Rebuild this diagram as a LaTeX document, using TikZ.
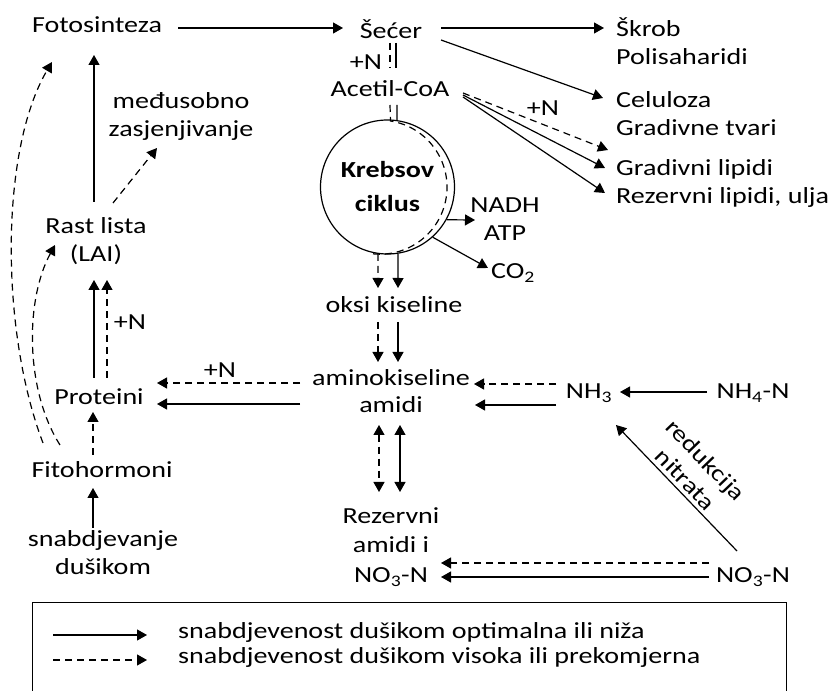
\documentclass[tikz,border=0pt]{standalone}
\usepackage{fontspec}
\setmainfont{Carlito}[FakeStretch=1.22]
\usepackage{tikz}
\usetikzlibrary{arrows.meta, calc}
\newcommand{\txtsize}{\fontsize{23}{28}\selectfont}
\tikzset{
  lbl/.style={inner sep=0pt, align=center, font=\txtsize},
  lbll/.style={inner sep=0pt, align=left, anchor=west, font=\txtsize},
  arrow/.style={-{Triangle[length=10pt,width=11pt]}, line width=1.2pt},
  dasharrow/.style={arrow, dash pattern=on 7pt off 5pt},
  twoway/.style={{Triangle[length=10pt,width=11pt]}-{Triangle[length=10pt,width=11pt]}, line width=1.2pt},
  dashtwoway/.style={twoway, dash pattern=on 7pt off 5pt},
  link/.style={line width=1.2pt},
  dashlink/.style={link, dash pattern=on 7pt off 5pt}
}

\begin{document}
\begin{tikzpicture}[x=1pt, y=1pt]
  \useasboundingbox (0,0) rectangle (839,691);

  %% ── Top row ─────────────────────────────────────────────────────────────
  \node[lbl] (foto) at (97,666) {Fotosinteza};
  \node[lbl] (secer) at (391,662) {Šećer};
  \node[lbl] (acetil) at (390,602) {Acetil-CoA};
  \node[lbll] (skrob) at (616,649.5) {Škrob\\Polisaharidi};
  \node[lbll] (celul) at (616,577.5) {Celuloza\\Gradivne tvari};
  \node[lbll] (lipidi) at (616,507.5) {Gradivni lipidi\\Rezervni lipidi, ulja};

  %% ── Krebs cycle ─────────────────────────────────────────────────────────
  \node[circle, draw, line width=1.2pt, minimum size=134pt, inner sep=0pt,
        align=center, font=\fontsize{23}{34}\selectfont\bfseries] (krebs)
        at (387.5,504) {Krebsov\\ciklus};
  \node[lbl] (nadh) at (505,472) {NADH\\ATP};
  \node[lbl] (co2) at (513,418) {CO\textsubscript{2}};
  \node[lbl] (oksi) at (394,386) {oksi kiseline};

  %% ── Nitrogen ────────────────────────────────────────────────────────────
  \node[lbl, font=\fontsize{23}{27}\selectfont] (amino) at (391,300) {aminokiseline\\amidi};
  \node[lbl] (nh3) at (589,298) {NH\textsubscript{3}};
  \node[lbl] (nh4) at (753,298) {NH\textsubscript{4}-N};
  \node[lbl, font=\fontsize{23}{29.5}\selectfont] (rez) at (391,144) {Rezervni\\amidi i\\NO\textsubscript{3}-N};
  \node[lbl] (no3) at (753,114) {NO\textsubscript{3}-N};

  %% ── Left column ─────────────────────────────────────────────────────────
  \node[lbl] (rast) at (96,450) {Rast lista\\(LAI)};
  \node[lbl] (medu) at (181,575) {međusobno\\zasjenjivanje};
  \node[lbl] (prot) at (99,294) {Proteini};
  \node[lbl] (fito) at (102,221) {Fitohormoni};
  \node[lbl] (snab) at (103,138) {snabdjevanje\\dušikom};

  %% ── +N labels ───────────────────────────────────────────────────────────
  \node[lbl] (nacetil) at (366,629) {+N};
  \node[lbl] (nlipid) at (543,583) {+N};
  \node[lbl] (nrast) at (130,369) {+N};
  \node[lbl] (nprot) at (220,321) {+N};

  %% ── Arrows ──────────────────────────────────────────────────────────────
  \draw[arrow] ($(foto.center)+(81,-3)$) -- ($(secer.center)+(-48,1)$);
  \draw[arrow] ($(secer.center)+(50,1)$) -- ($(skrob.west)+(-12,13.5)$);
  \draw[arrow] ($(secer.center)+(50,-11)$) -- ($(celul.west)+(-13,15.5)$);

  \draw[dashlink] ($(secer.center)+(-1,-14)$) -- ($(acetil.center)+(0,21)$);
  \draw[link] ($(secer.center)+(5,-14)$) -- ($(acetil.center)+(6,21)$);
  \draw[dashlink] ($(acetil.center)+(0,-16)$) -- ($(krebs.center)+(3,66)$)
    arc[start angle=81, end angle=-98, radius=67];
  \draw[link] ($(acetil.center)+(7,-16)$) -- (krebs.82);

  \draw[dasharrow] ($(acetil.center)+(73,-4)$) -- ($(lipidi.west)+(-8,33.5)$);
  \draw[arrow] ($(acetil.center)+(73,-6)$) -- ($(lipidi.west)+(-11,15.5)$);
  \draw[arrow] ($(acetil.center)+(73,-8)$) -- ($(lipidi.west)+(-11,-9.5)$);

  \draw[arrow] (krebs.-29) -- ($(nadh.center)+(-30,-1)$);
  \draw[arrow] (krebs.-48) -- ($(co2.center)+(-25,5)$);
  \draw[dasharrow] (krebs.-98) -- ($(oksi.center)+(-16,17)$);
  \draw[arrow] (krebs.-81) -- ($(oksi.center)+(4,17)$);

  \draw[dasharrow] ($(oksi.center)+(-16,-17)$) -- ($(amino.center)+(-13,29)$);
  \draw[arrow] ($(oksi.center)+(4,-17)$) -- ($(amino.center)+(7,29)$);

  \draw[dasharrow] ($(nh3.center)+(-33,9)$) -- ($(amino.center)+(83,7)$);
  \draw[arrow] ($(nh3.center)+(-33,-12)$) -- ($(amino.center)+(84,-14)$);
  \draw[arrow] ($(nh4.center)+(-46,1)$) -- ($(nh3.center)+(31,1)$);
  \draw[arrow] ($(no3.center)+(-16,26)$) -- ($(nh3.center)+(27,-32)$)
    node[midway, sloped, above=4pt, lbl] (redu) {redukcija\\nitrata};

  \draw[dashtwoway] ($(amino.center)+(-12,-34)$) -- ($(rez.center)+(-12,55)$);
  \draw[twoway] ($(amino.center)+(9,-34)$) -- ($(rez.center)+(9,55)$);
  \draw[dasharrow] ($(no3.center)+(-44,14)$) -- ($(rez.center)+(50,-16)$);
  \draw[arrow] ($(no3.center)+(-44,0)$) -- ($(rez.center)+(50,-30)$);

  \draw[dasharrow] ($(amino.center)+(-91,8)$) -- ($(prot.center)+(58,14)$);
  \draw[arrow] ($(amino.center)+(-91,-13)$) -- ($(prot.center)+(58,-7)$);

  \draw[arrow] ($(prot.center)+(-5,19)$) -- ($(rast.center)+(-2,-39)$);
  \draw[dasharrow] ($(prot.center)+(8,19)$) -- ($(rast.center)+(11,-39)$);
  \draw[arrow] ($(rast.center)+(-2,39)$) -- ($(foto.center)+(-3,-30)$);
  \draw[dasharrow] ($(rast.center)+(17,38)$) -- ($(medu.center)+(-24,-32)$);
  \draw[dasharrow] ($(fito.center)+(-9,15)$) -- ($(prot.center)+(-6,-15)$);
  \draw[arrow] ($(snab.center)+(-10,25)$) -- ($(fito.center)+(-9,-18)$);

  %% Feedback curves
  \draw[dasharrow] ($(fito.center)+(-59,27)$) .. controls +(-43,113) and +(-52,-88) .. ($(foto.center)+(-45,-37)$);
  \draw[dasharrow] ($(fito.center)+(-42,25)$) .. controls +(-35,55) and +(-30,-55) .. ($(rast.center)+(-41,-4)$);

  %% ── Legend ──────────────────────────────────────────────────────────────
  \draw[line width=1pt] (32,-20) rectangle (786,88);
  \node[lbll] (leg1) at (178,59) {snabdjevenost dušikom optimalna ili niža};
  \node[lbll] (leg2) at (178,34) {snabdjevenost dušikom visoka ili prekomjerna};
  \draw[arrow] ($(leg1.west)+(-125,-3)$) -- ($(leg1.west)+(-31,-3)$);
  \draw[dasharrow] ($(leg2.west)+(-125,-3)$) -- ($(leg2.west)+(-31,-3)$);

\end{tikzpicture}
\end{document}
